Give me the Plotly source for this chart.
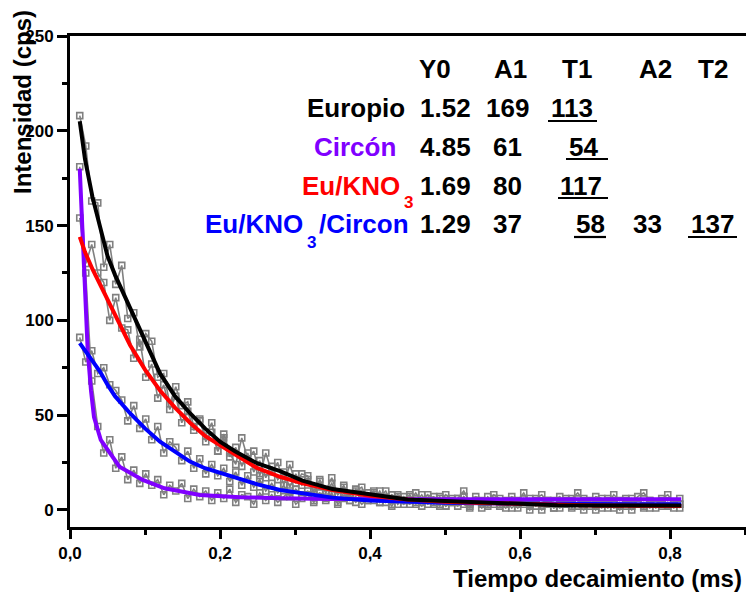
import plotly.graph_objects as go

# ---------------- data ----------------
t = [0.013, 0.021, 0.029, 0.037, 0.045, 0.053, 0.061, 0.069, 0.077, 0.085,
     0.093, 0.101, 0.109, 0.117, 0.125, 0.133, 0.141, 0.149, 0.157, 0.165,
     0.173, 0.181, 0.189, 0.197, 0.205, 0.213, 0.221, 0.229, 0.237, 0.245,
     0.253, 0.261, 0.269, 0.277, 0.285, 0.293, 0.301, 0.309, 0.317, 0.325,
     0.333, 0.341, 0.349, 0.357, 0.365, 0.373, 0.381, 0.389, 0.397, 0.405,
     0.413, 0.421, 0.429, 0.437, 0.445, 0.453, 0.461, 0.469, 0.477, 0.485,
     0.493, 0.501, 0.509, 0.517, 0.525, 0.533, 0.541, 0.549, 0.557, 0.565,
     0.573, 0.581, 0.589, 0.597, 0.605, 0.613, 0.621, 0.629, 0.637, 0.645,
     0.653, 0.661, 0.669, 0.677, 0.685, 0.693, 0.701, 0.709, 0.717, 0.725,
     0.733, 0.741, 0.749, 0.757, 0.765, 0.773, 0.781, 0.789, 0.797, 0.805,
     0.813]

europio = [208, 192, 163, 162, 128, 140, 119, 129, 101, 104,
           86, 93, 89, 70, 72, 56, 65, 55, 57, 44,
           47, 39, 46, 31, 40, 30, 24, 38, 27, 31,
           18, 30, 20, 25, 13, 24, 14, 19, 18, 8,
           16, 10, 17, 8, 13, 5, 10, 12, 5, 9,
           7, 10, 3, 8, 5, 8, 3, 5, 8, 3,
           6, 2, 6, 4, 7, 2, 5, 3, 7, 3,
           4, 1, 5, 3, 6, 0, 4, 2, 5, 1,
           3, 6, 1, 4, 2, 5, 0, 4, 1, 3,
           0, 5, 2, 3, 4, 1, 3, 2, 4, 1,
           3]

eu_kno3 = [154, 130, 140, 125, 120, 100, 112, 96, 95, 80,
           90, 70, 77, 59, 66, 53, 60, 46, 52, 42,
           48, 36, 41, 31, 38, 28, 33, 23, 30, 20,
           26, 17, 23, 16, 20, 12, 19, 13, 16, 10,
           15, 9, 14, 8, 12, 7, 11, 6, 9, 5,
           10, 4, 8, 6, 3, 7, 4, 8, 3, 5,
           2, 6, 4, 2, 7, 3, 5, 1, 4, 6,
           2, 3, 5, 1, 4, 2, 5, 0, 3, 4,
           1, 3, 5, 2, 0, 4, 2, 3, 6, 1,
           2, 4, 0, 3, 2, 5, 1, 3, 2, 4,
           1]

eu_kno3_circon = [91, 78, 84, 72, 75, 66, 63, 58, 47, 55,
                  43, 48, 37, 44, 30, 36, 33, 26, 31, 22,
                  27, 19, 24, 18, 22, 15, 20, 13, 18, 12,
                  16, 10, 14, 9, 13, 7, 11, 8, 10, 5,
                  9, 6, 8, 4, 9, 5, 7, 3, 6, 8,
                  4, 6, 2, 7, 5, 3, 6, 2, 5, 4,
                  7, 2, 4, 6, 3, 1, 5, 4, 2, 6,
                  3, 5, 1, 4, 3, 6, 2, 4, 5, 1,
                  3, 5, 2, 4, 6, 2, 3, 1, 5, 3,
                  4, 2, 6, 3, 1, 4, 3, 5, 2, 4,
                  3]

circon = [181, 125, 68, 44, 30, 37, 22, 28, 16, 21,
          14, 19, 13, 16, 8, 13, 10, 14, 6, 11,
          7, 10, 5, 9, 6, 11, 4, 8, 7, 3,
          9, 5, 8, 4, 7, 10, 3, 6, 8, 4,
          7, 5, 9, 3, 6, 8, 4, 7, 5, 10,
          4, 6, 8, 3, 7, 5, 9, 4, 6, 7,
          3, 8, 5, 6, 10, 4, 7, 5, 3, 8,
          6, 4, 7, 5, 9, 3, 6, 8, 4, 5,
          7, 3, 6, 9, 5, 4, 7, 6, 3, 8,
          5, 6, 4, 7, 9, 5, 3, 6, 8, 4,
          6]

# fitted curves
fit_t = [0.013, 0.02, 0.03, 0.04, 0.05, 0.06, 0.08, 0.10, 0.12, 0.14,
         0.16, 0.18, 0.20, 0.22, 0.25, 0.28, 0.31, 0.35, 0.40, 0.45,
         0.50, 0.55, 0.60, 0.65, 0.70, 0.75, 0.815]
europio_fit = [205, 185, 165, 150, 134, 124, 107, 90, 72, 60,
               51, 43, 36, 31, 24.5, 20.5, 15.5, 11, 8, 5.5,
               4.7, 4, 3, 2.5, 2.3, 2.3, 2.3]
eu_kno3_fit = [144, 136, 127, 119, 111, 103, 87, 74, 63, 54,
               46, 39, 34, 29, 22, 17.5, 14, 10.5, 7.5, 5.5,
               4.3, 3.7, 3.2, 2.6, 2.3, 2.2, 2.1]
eu_kno3_circon_fit = [88, 84, 79, 73, 66, 60, 51, 43, 36, 30.5,
                      25.5, 22, 19.5, 17, 13.5, 10.5, 8.8, 6.5, 5, 4.3,
                      3.8, 3.5, 3.3, 3.2, 3.1, 3.0, 3.0]
circon_fit_t = [0.013, 0.0178, 0.0213, 0.0236, 0.028, 0.032, 0.041, 0.066,
                0.097, 0.126, 0.173, 0.227, 0.28, 0.35, 0.50, 0.815]
circon_fit = [180, 137, 111, 84, 63, 49, 37, 22.8,
              15.8, 11.4, 7.9, 6.7, 6.2, 5.8, 5.6, 5.6]

# table of fit parameters
col_headers = ["Y0", "A1", "T1", "A2", "T2"]
y0_vals = ["1.52", "4.85", "1.69", "1.29"]
a1_vals = ["169", "61", "80", "37"]
t1_vals = ["113", "54", "117", "58"]
a2_vals = ["", "", "", "33"]
t2_vals = ["", "", "", "137"]

# ---------------- layout helpers ----------------
W, H = 746, 592
ML, MR, MT, MB = 70, 0, 36, 65
PW, PH = W - ML - MR, H - MT - MB


def px(x):
    return (x - ML) / PW


def py(y):
    return (H - MB - y) / PH


FONT = "Liberation Sans, Arial, sans-serif"
GRAY = "#808080"
PURPLE = "#8000FF"
C_EU, C_CI, C_KN, C_KC = "#000000", PURPLE, "#FF0000", "#0000FF"

fig = go.Figure()

for ys in [europio, eu_kno3, eu_kno3_circon, circon]:
    fig.add_trace(go.Scatter(
        x=t, y=ys, mode="lines+markers",
        line=dict(color=GRAY, width=1.6),
        marker=dict(symbol="square-open", size=6, color=GRAY,
                    line=dict(color=GRAY, width=1.6)),
        showlegend=False, hoverinfo="skip"))

FW = 4
fig.add_trace(go.Scatter(x=circon_fit_t, y=circon_fit, mode="lines",
                         line=dict(color=C_CI, width=FW), showlegend=False))
fig.add_trace(go.Scatter(x=fit_t, y=eu_kno3_circon_fit, mode="lines",
                         line=dict(color=C_KC, width=FW), showlegend=False))
fig.add_trace(go.Scatter(x=fit_t, y=eu_kno3_fit, mode="lines",
                         line=dict(color=C_KN, width=FW), showlegend=False))
fig.add_trace(go.Scatter(x=fit_t, y=europio_fit, mode="lines",
                         line=dict(color=C_EU, width=FW), showlegend=False))

ann = []
shapes = []


def text(s, x, y, size=26, color="black", xanchor="center", angle=0):
    ann.append(dict(text=s, x=px(x), y=py(y), xref="paper", yref="paper",
                    xanchor=xanchor, yanchor="middle", showarrow=False,
                    textangle=angle,
                    font=dict(family=FONT, size=size, color=color, weight="bold")))


def uline(x0, x1, y):
    shapes.append(dict(type="line", xref="paper", yref="paper",
                       x0=px(x0), x1=px(x1), y0=py(y), y1=py(y),
                       line=dict(color="black", width=2.2)))


# header
hdr_x = [435, 510, 577, 655, 713]
for h, x in zip(col_headers, hdr_x):
    text(h, x, 69)

row_y = [108, 147, 186, 224]

# row labels
text("Europio", 407, row_y[0], color=C_EU, xanchor="right")
text("Circón", 398, row_y[1], color=C_CI, xanchor="right")
text("Eu/KNO", 402, row_y[2], color=C_KN, xanchor="right")
text("3", 409, 203, size=17, color=C_KN)
text("Eu/KNO", 305, row_y[3], color=C_KC, xanchor="right")
text("3", 311, 242, size=17, color=C_KC)
text("/Circon", 317, row_y[3], color=C_KC, xanchor="left")

t1_x = [572, 583, 581, 590]
ul = [(548, 597, 121), (566, 608, 159), (558, 608, 198), (574, 606, 237)]
for i in range(4):
    text(y0_vals[i], 446, row_y[i])
    text(a1_vals[i], 507, row_y[i])
    text(t1_vals[i], t1_x[i], row_y[i])
    uline(*ul[i])
    if a2_vals[i]:
        text(a2_vals[i], 647, row_y[i])
    if t2_vals[i]:
        text(t2_vals[i], 712, row_y[i])
        uline(688, 737, 237)

# axis titles
text("Intensidad (cps)", 22, 102, size=24, angle=-90)
ann.append(dict(text="Tiempo decaimiento (ms)", x=px(744), y=py(578),
                xref="paper", yref="paper", xanchor="right", yanchor="middle",
                showarrow=False,
                font=dict(family=FONT, size=24, color="black", weight="bold")))

tickfont = dict(family=FONT, size=17, color="black", weight="bold")

fig.update_layout(
    width=W, height=H,
    margin=dict(l=ML, r=MR, t=MT, b=MB, pad=0),
    paper_bgcolor="white", plot_bgcolor="white",
    separators=",.",
    annotations=ann, shapes=shapes,
    xaxis=dict(range=[0, PW / 750], showgrid=False, zeroline=False,
               showline=True, linecolor="black", linewidth=3, mirror=True,
               ticks="outside", tickcolor="black", ticklen=9, tickwidth=2.5,
               tick0=0, dtick=0.2, tickformat=".1f", tickfont=tickfont,
               minor=dict(ticks="outside", dtick=0.1, ticklen=5,
                          tickwidth=2.5, tickcolor="black")),
    yaxis=dict(range=[-9, 250], showgrid=False, zeroline=False,
               showline=True, linecolor="black", linewidth=3,
               ticks="outside", tickcolor="black", ticklen=10, tickwidth=2.5,
               tick0=0, dtick=50, tickformat="d", tickfont=tickfont,
               minor=dict(ticks="outside", dtick=25, ticklen=5,
                          tickwidth=2.5, tickcolor="black")),
)

fig.write_html("out.html")
